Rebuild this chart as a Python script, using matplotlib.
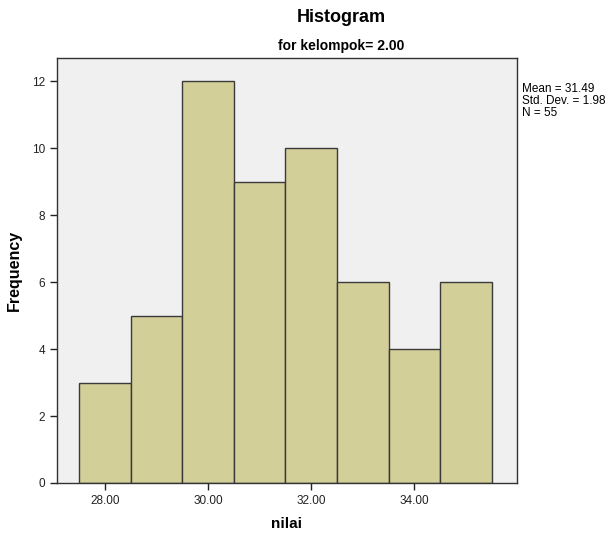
import numpy as np
import matplotlib.pyplot as plt

plt.rcParams['font.family'] = ['Liberation Sans', 'DejaVu Sans']

# histogram bins of "nilai" (width 1.00)
bin_edges = [27.5, 28.5, 29.5, 30.5, 31.5, 32.5, 33.5, 34.5, 35.5]
counts = [3, 5, 12, 9, 10, 6, 4, 6]
x_ticks = [28.0, 30.0, 32.0, 34.0]
y_ticks = [0, 2, 4, 6, 8, 10, 12]
stats_text = "Mean = 31.49\nStd. Dev. = 1.98\nN = 55"

fig = plt.figure(figsize=(6.11, 5.35), dpi=100)
ax = fig.add_axes([0.0933, 0.0972, 0.7528, 0.7944])
ax.set_facecolor('#f0f0f0')

lefts = bin_edges[:-1]
widths = np.diff(bin_edges)
ax.bar(lefts, counts, width=widths, align='edge', color='#d3cf98',
       edgecolor='#3a3a3a', linewidth=1.0)

ax.set_xlim(27.07, 35.99)
ax.set_ylim(0, 12.7)
ax.set_xticks(x_ticks)
ax.set_xticklabels([f"{v:.2f}" for v in x_ticks])
ax.set_yticks(y_ticks)
ax.tick_params(direction='out', length=5, width=1, labelsize=8.5, colors='#222222')

for s in ax.spines.values():
    s.set_color('#333333')
    s.set_linewidth(1.0)

ax.set_xlabel("nilai", fontsize=11, fontweight='bold', labelpad=7)
ax.set_ylabel("Frequency", fontsize=11.5, fontweight='bold', labelpad=7)

fig.text(0.558, 0.968, "Histogram", ha='center', va='center', fontsize=13, fontweight='bold')
fig.text(0.558, 0.914, "for kelompok= 2.00", ha='center', va='center', fontsize=10, fontweight='bold')
fig.text(0.855, 0.845, stats_text, ha='left', va='top', fontsize=8.5, linespacing=1.0)

fig.savefig("out.png", dpi=100)
